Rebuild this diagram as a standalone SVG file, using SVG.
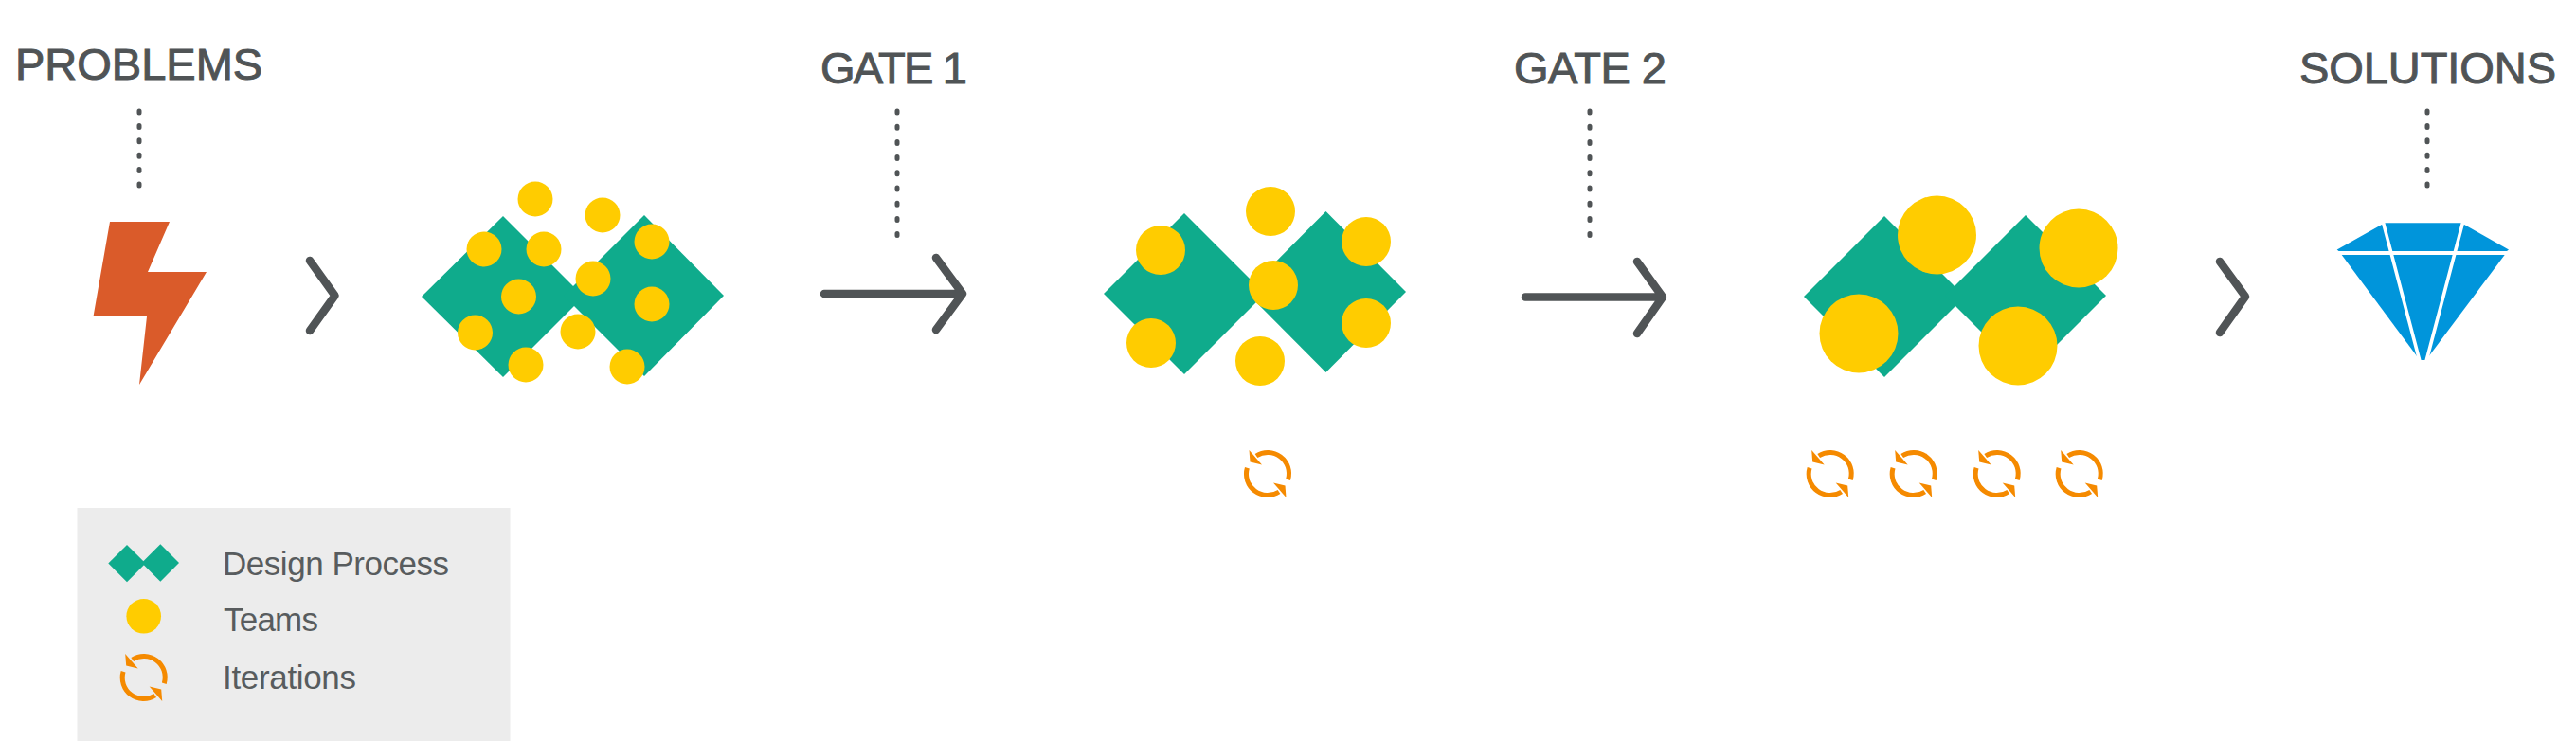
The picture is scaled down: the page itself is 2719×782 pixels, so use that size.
<svg xmlns="http://www.w3.org/2000/svg" width="2719" height="782" viewBox="0 0 2719 782">
<style>
text{font-family:"Liberation Sans",Arial,sans-serif;fill:#505456}
.h{font-size:47px;stroke:#505456;stroke-width:1px}
.l{font-size:35px;fill:#585c5e}
.dots{fill:none;stroke:#505456;stroke-width:5;stroke-linecap:round}
.s{stroke-dasharray:2 13.4}
.g{stroke-dasharray:2 14.2}
.conn{fill:none;stroke:#505456;stroke-width:8.5;stroke-linecap:round;stroke-linejoin:round}
.d{fill:#0fab8c}
.t{fill:#ffcc00}
.arc{fill:none;stroke:#f58a00;stroke-width:5}
.ah{fill:#f58a00}
</style>
<defs>
<g id="iter">
<path class="arc" d="M21.6 6.2A22.4 22.4 0 0 0 -12 -19"/>
<polygon class="ah" points="-19.5,-25 -18.5,-12.5 -6,-9.5"/>
<path class="arc" d="M-21.6 -6.2A22.4 22.4 0 0 0 12 19"/>
<polygon class="ah" points="19.5,25 18.5,12.5 6,9.5"/>
</g>
</defs>
<rect id="legend-bg" x="81.5" y="536" width="457" height="246" fill="#ececec"/>
<g id="connectors">
<path class="dots s" d="M147 117V196"/>
<path class="dots g" d="M947 117V250"/>
<path class="dots g" d="M1678 117V250"/>
<path class="dots s" d="M2562 117V196"/>
<path class="conn" d="M327 275L353.5 312L327 349"/>
<path class="conn" d="M870 310H1015M988 272L1016 310L988 348"/>
<path class="conn" d="M1610 313.5H1754M1728 276L1755 313.5L1728 352"/>
<path class="conn" d="M2343 276L2370 313L2343 351"/>
</g>
<g id="problems">
<text class="h" x="16" y="84">PROBLEMS</text>
<polygon fill="#da5b2a" points="116,234 179,234 156,287 218,287 147,406 155,334 98.5,334"/>
</g>
<g id="process-1">
<polygon class="d" points="445,313 531,228 616,313 531,398"/>
<polygon class="d" points="595,312 680,227 764,312 680,397"/>
<circle class="t" cx="565" cy="210" r="18.5"/><circle class="t" cx="636" cy="227" r="18.5"/><circle class="t" cx="688" cy="255" r="18.5"/>
<circle class="t" cx="511" cy="263" r="18.5"/><circle class="t" cx="574" cy="263" r="18.5"/><circle class="t" cx="626" cy="294" r="18.5"/>
<circle class="t" cx="547.5" cy="313" r="18.5"/><circle class="t" cx="688" cy="321" r="18.5"/><circle class="t" cx="501.5" cy="351" r="18.5"/>
<circle class="t" cx="610" cy="350" r="18.5"/><circle class="t" cx="555" cy="385" r="18.5"/><circle class="t" cx="662" cy="387" r="18.5"/>
</g>
<g id="gate-1">
<text class="h" x="866" y="88" textLength="155" lengthAdjust="spacing">GATE 1</text>
</g>
<g id="process-2">
<polygon class="d" points="1165,310 1250,225 1335,310 1250,395"/>
<polygon class="d" points="1315,308 1399.5,223 1484,308 1399.5,393"/>
<circle class="t" cx="1225" cy="264" r="26"/><circle class="t" cx="1341" cy="223" r="26"/><circle class="t" cx="1442" cy="255" r="26"/>
<circle class="t" cx="1344" cy="301" r="26"/><circle class="t" cx="1442" cy="341" r="26"/><circle class="t" cx="1215" cy="362" r="26"/>
<circle class="t" cx="1330" cy="381" r="26"/>
<use href="#iter" x="1338" y="500"/>
</g>
<g id="gate-2">
<text class="h" x="1598" y="88" textLength="161" lengthAdjust="spacing">GATE 2</text>
</g>
<g id="process-3">
<polygon class="d" points="1904,313 1989,228 2074,313 1989,398"/>
<polygon class="d" points="2053,312 2138,227 2223,312 2138,397"/>
<circle class="t" cx="2044.5" cy="248" r="41.5"/><circle class="t" cx="2194" cy="262" r="41.5"/>
<circle class="t" cx="1962" cy="352" r="41.5"/><circle class="t" cx="2130" cy="365" r="41.5"/>
<use href="#iter" x="1931.7" y="500"/><use href="#iter" x="2019.7" y="500"/><use href="#iter" x="2107.7" y="500"/><use href="#iter" x="2194.7" y="500"/>
</g>
<g id="solutions">
<text class="h" x="2427" y="88" textLength="271" lengthAdjust="spacing">SOLUTIONS</text>
<polygon fill="#0095db" points="2466.7,263.5 2517,235.3 2598,235.3 2648,263.5 2646,265 2468.5,265"/>
<polygon fill="#0095db" points="2471.7,269 2643.7,269 2560.7,380 2554,380"/>
<path d="M2515 233L2555 385M2600 233L2560 385" fill="none" stroke="#fff" stroke-width="3.6"/>
</g>
<g id="legend">
<polygon class="d" points="114.3,594.5 134,575 153.7,594.5 134,614.3"/>
<polygon class="d" points="149.6,594 169.3,574.3 189,594 169.3,613.7"/>
<text class="l" x="235" y="607" textLength="239" lengthAdjust="spacing">Design Process</text>
<circle class="t" cx="151.7" cy="650.3" r="18.3"/>
<text class="l" x="236" y="666" textLength="100" lengthAdjust="spacing">Teams</text>
<use href="#iter" x="151.7" y="715"/>
<text class="l" x="235" y="726.5" textLength="141" lengthAdjust="spacing">Iterations</text>
</g>
</svg>
